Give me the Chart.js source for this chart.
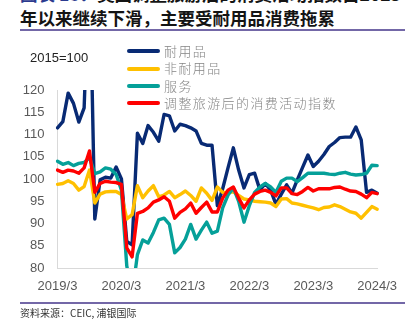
<!DOCTYPE html>
<html>
<head>
<meta charset="utf-8">
<script src="https://cdn.jsdelivr.net/npm/chart.js@4.4.1/dist/chart.umd.min.js"></script>
<style>
  body { margin:0; width:417px; height:328px; overflow:hidden; background:#fff; position:relative;
         font-family:"Noto Sans CJK SC", sans-serif; }
  #visorGrafico { position:absolute; left:0; top:0; }
  .titulo { position:absolute; left:20px; font-size:17.5px; font-weight:bold; color:#141414;
            white-space:nowrap; line-height:20px; }
  .linea { position:absolute; left:20px; width:385px; height:1.5px; background:#7367a7; }
  #unidad { position:absolute; left:30px; top:50px; font:13px "Liberation Sans", sans-serif; color:#222; }
  #fuente { position:absolute; left:20px; top:306px; font-size:10px; color:#333; line-height:14px; }
  .itemLeyenda { position:absolute; left:127px; height:16px; line-height:16px; font-size:13px;
                 letter-spacing:1.4px; color:#858585; white-space:nowrap; font-weight:300; }
  .itemLeyenda span { display:inline-block; width:33px; height:4px; border-radius:2px;
                      vertical-align:middle; margin-right:4px; position:relative; top:-1px; }
</style>
</head>
<body>
<div class="titulo" style="top:-16px"><span style="color:#2b3a8f">图表 18：</span>美国调整旅游后的消费活动指数自2023</div>
<div class="titulo" style="top:8px">年以来继续下滑，主要受耐用品消费拖累</div>
<div class="linea" style="top:29px"></div>
<canvas id="visorGrafico" width="417" height="328"></canvas>
<div id="unidad">2015=100</div>
<div id="leyenda"></div>
<div class="linea" style="top:302px"></div>
<div id="fuente">资料来源：CEIC, 浦银国际</div>

<script>
// Meses (2019/3 - 2024/3)
const meses = [
  '2019/3','2019/4','2019/5','2019/6','2019/7','2019/8','2019/9','2019/10','2019/11','2019/12',
  '2020/1','2020/2','2020/3','2020/4','2020/5','2020/6','2020/7','2020/8','2020/9','2020/10','2020/11','2020/12',
  '2021/1','2021/2','2021/3','2021/4','2021/5','2021/6','2021/7','2021/8','2021/9','2021/10','2021/11','2021/12',
  '2022/1','2022/2','2022/3','2022/4','2022/5','2022/6','2022/7','2022/8','2022/9','2022/10','2022/11','2022/12',
  '2023/1','2023/2','2023/3','2023/4','2023/5','2023/6','2023/7','2023/8','2023/9','2023/10','2023/11','2023/12',
  '2024/1','2024/2','2024/3'
];
const etiquetasEje = ['2019/3','2020/3','2021/3','2022/3','2023/3','2024/3'];

const nombresSeries = ['耐用品','非耐用品','服务','调整旅游后的消费活动指数'];

const duraderos = [
  111.5,112.9,119.3,117,112.8,116,150,91,99.8,100.4,
  100.2,102.7,100,86,85.2,110.3,108,112,110.5,108.5,114.5,114.2,
  110.8,112.3,112,111.5,110.8,108,107.6,107.6,94,97.8,102.5,107,
  102,98,101,101.3,97.5,99,97.5,94.3,96.6,98.7,96.8,99.8,
  102.6,105.4,102.8,104,105.5,107.3,108.2,109.3,109.4,109.4,111.7,108.8,
  97,97.5,96.8
];
const noDuraderos = [
  98.8,99,99.6,99,97.5,98.3,102,94.6,96.6,97.1,
  97.2,97.2,96.5,91,92,98.5,95.8,97.3,98.5,96,96.4,97.2,
  95.8,96.5,97.3,96.3,95,98,96.8,95.2,98.2,97,97,97.1,
  96.3,95.5,95.3,95,94.9,94.8,94.6,93.8,95.5,95.6,94.6,94.4,
  94.1,93.8,93.5,93.1,93.6,93.7,94.2,93.8,93.2,92.6,92.3,91.2,
  92.5,93.8,93.2
];
const servicios = [
  104,103.3,103.7,103,103.5,103.7,104.8,101.2,101.6,102.5,
  102.2,101,97.5,80.5,74,83,86.3,85.6,88,90.8,91.2,89.8,
  83.4,84.6,86.5,89.8,86.5,88.5,90.3,87.8,88.3,93.5,96.4,98,
  95,90.3,94,97,98.2,99,98.2,97,99.5,100.2,100.2,99.4,
  100.3,101.3,101.3,101.3,101.3,101.1,101,101.3,101.5,101.1,100.9,101,
  101.3,103.1,103
];
const actividadAjustada = [
  102,101.5,102,101.8,101.3,102.5,106.3,97,99,99.5,
  99.3,99.2,98.8,84.5,82.5,92.3,92.7,93.5,94.8,95.3,96,95,
  91.2,92.5,93.3,94.6,92.3,93.6,94.8,92.6,92.6,95.7,97.5,98.2,
  95.7,93.5,95.3,96.6,97.2,97.5,97,96.2,98,98,96.7,96.5,
  97.2,98.1,97.3,97.8,97.8,97.8,98.1,98.2,97.7,97.3,97.2,96.6,
  95.8,97,96.7
];

const colores = ['#082a74','#ffc000','#05a099','#ff0000'];

function serie(i, datos){
  return {
    label: nombresSeries[i],
    data: datos,
    borderColor: colores[i],
    backgroundColor: colores[i],
    borderWidth: 3.4,
    pointRadius: 0,
    tension: 0,
    fill: false,
    borderJoinStyle: 'round',
    borderCapStyle: 'round',
    order: 4 - i // la ultima serie queda encima
  };
}

const fuenteEjes = { family: '"Liberation Sans", sans-serif', size: 13 };

let contenedor_graf = document.getElementById('visorGrafico');
let config_graf = {
  type: 'line',
  data: {
    labels: meses,
    datasets: [
      serie(0, duraderos),
      serie(1, noDuraderos),
      serie(2, servicios),
      serie(3, actividadAjustada)
    ]
  },
  options: {
    responsive: false,
    animation: false,
    devicePixelRatio: 1,
    layout: { padding: { left: 0, top: 90, right: 39.8, bottom: 0 } },
    plugins: { legend: { display: false }, tooltip: { enabled: false } },
    scales: {
      x: {
        offset: false,
        grid: { display: false, drawTicks: false },
        border: { display: true, color: '#d9d9d9', width: 1 },
        ticks: {
          autoSkip: false, maxRotation: 0, padding: 11, color: '#595959', font: fuenteEjes,
          callback: function(valor, indice){
            let m = meses[indice];
            return etiquetasEje.includes(m) ? m : '';
          }
        },
        afterFit: function(escala){ escala.height = 60; }
      },
      y: {
        min: 80, max: 120,
        grid: { display: false, drawTicks: false },
        border: { display: true, color: '#d9d9d9', width: 1 },
        ticks: { stepSize: 5, padding: 13, color: '#595959', font: fuenteEjes },
        afterFit: function(escala){ escala.width = 57.5; }
      }
    }
  }
};

let graficoConsumo = new Chart(contenedor_graf, config_graf);

// Leyenda en HTML, a partir de las series del grafico
let leyenda = document.getElementById('leyenda');
graficoConsumo.data.datasets.forEach(function(ds, i){
  let item = document.createElement('div');
  item.className = 'itemLeyenda';
  item.style.top = (43 + i * 17.3) + 'px';
  let muestra = document.createElement('span');
  muestra.style.background = ds.borderColor;
  item.appendChild(muestra);
  item.appendChild(document.createTextNode(ds.label));
  leyenda.appendChild(item);
});
</script>
</body>
</html>
